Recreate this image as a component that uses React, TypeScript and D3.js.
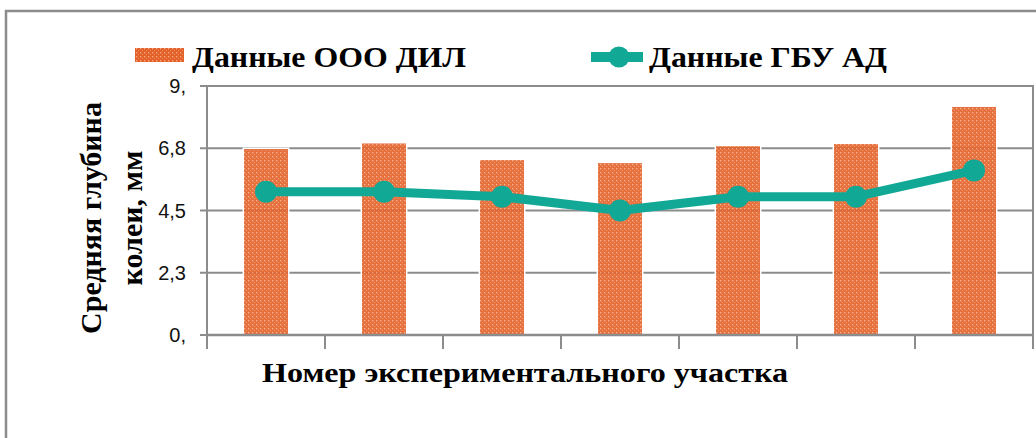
import React from "react";
import * as d3 from "d3";

const categories = ["1", "2", "3", "4", "5", "6", "7"];
const dilValues = [6.75, 6.95, 6.35, 6.24, 6.85, 6.93, 8.27];
const gbuValues = [5.18, 5.18, 5.0, 4.5, 5.0, 5.0, 5.95];
const yTickValues = [0, 2.25, 4.5, 6.75, 9];
const yTickLabels = ["0,", "2,3", "4,5", "6,8", "9,"];
const seriesNames = ["Данные ООО ДИЛ", "Данные ГБУ АД"];
const yTitleLines = ["Средняя глубина", "колеи, мм"];
const xTitle = "Номер экспериментального участка";

const W = 1036;
const H = 438;
const plot = { left: 207, right: 1033, top: 86, bottom: 335 };
const GRAY = "#8c8c8c";
const TEAL = "#12a896";
const SERIF = "'Liberation Serif', 'Times New Roman', serif";
const SANS = "'Liberation Sans', Arial, sans-serif";

export default function App() {
  const x = d3.scaleBand<string>().domain(categories).range([plot.left, plot.right]).padding(0);
  const y = d3.scaleLinear().domain([0, 9]).range([plot.bottom, plot.top]);
  const bw = x.bandwidth() * 0.385;
  const cx = (c: string) => (x(c) as number) + x.bandwidth() / 2;
  const line = d3
    .line<number>()
    .x((_, i) => cx(categories[i]))
    .y((d) => y(d));
  const boundaries = [...categories.map((c) => x(c) as number), plot.right];

  return (
    <div style={{ position: "absolute", left: 0, top: 0 }}>
      <svg width={W} height={H} style={{ display: "block", background: "#fff" }}>
        <defs>
          <pattern id="dots" width="4" height="4" patternUnits="userSpaceOnUse">
            <rect width="4" height="4" fill="#e4612a" />
            <rect x="0" y="0" width="1.3" height="1.3" fill="#f6ad85" />
            <rect x="2" y="2" width="1" height="1" fill="#ef8f5c" />
          </pattern>
        </defs>
        {/* outer frame */}
        <rect x={6} y={11} width={1100} height={500} fill="none" stroke={GRAY} strokeWidth={2.5} />

        {/* gridlines and y ticks */}
        {yTickValues.map((v, i) => (
          <g key={i}>
            <line x1={200} x2={plot.right} y1={y(v)} y2={y(v)} stroke={GRAY} strokeWidth={2} />
            <text
              x={186}
              y={y(v)}
              textAnchor="end"
              dominantBaseline="central"
              fontFamily={SANS}
              fontSize={20}
              fill="#111"
            >
              {yTickLabels[i]}
            </text>
          </g>
        ))}

        {/* bars */}
        {categories.map((c, i) => (
          <rect
            key={c}
            x={cx(c) - bw / 2}
            y={y(dilValues[i])}
            width={bw}
            height={y(0) - y(dilValues[i])}
            fill="url(#dots)"
            fillOpacity={0.9}
            stroke="#fff"
            strokeWidth={1.5}
          />
        ))}

        {/* axes */}
        <line x1={plot.left} x2={plot.left} y1={plot.top} y2={349} stroke={GRAY} strokeWidth={2} />
        <line x1={plot.right} x2={plot.right} y1={plot.top - 1} y2={349} stroke={GRAY} strokeWidth={2} />
        <line x1={plot.left} x2={plot.right + 1} y1={y(0)} y2={y(0)} stroke={GRAY} strokeWidth={2.5} />
        {boundaries.map((b, i) => (
          <line key={i} x1={b} x2={b} y1={y(0)} y2={349} stroke={GRAY} strokeWidth={2} />
        ))}

        {/* line series */}
        <path d={line(gbuValues) || ""} fill="none" stroke={TEAL} strokeWidth={9} strokeLinejoin="round" />
        {gbuValues.map((v, i) => (
          <circle key={i} cx={cx(categories[i])} cy={y(v)} r={11} fill={TEAL} />
        ))}

        {/* legend */}
        <rect x={135} y={48} width={49} height={14} fill="url(#dots)" />
        <text
          x={192}
          y={67}
          fontFamily={SERIF}
          fontWeight="bold"
          fontSize={30}
          fill="#000"
          textLength={274}
          lengthAdjust="spacingAndGlyphs"
        >
          {seriesNames[0]}
        </text>
        <line x1={591} x2={643} y1={57} y2={57} stroke={TEAL} strokeWidth={10} />
        <circle cx={619} cy={57} r={10.5} fill={TEAL} />
        <text
          x={649}
          y={67}
          fontFamily={SERIF}
          fontWeight="bold"
          fontSize={30}
          fill="#000"
          textLength={238}
          lengthAdjust="spacingAndGlyphs"
        >
          {seriesNames[1]}
        </text>

        {/* y title */}
        <g transform="translate(0,218) rotate(-90)">
          <text x={0} y={101} textAnchor="middle" fontFamily={SERIF} fontWeight="bold" fontSize={30} fill="#000">
            {yTitleLines[0]}
          </text>
          <text x={0} y={142} textAnchor="middle" fontFamily={SERIF} fontWeight="bold" fontSize={30} fill="#000">
            {yTitleLines[1]}
          </text>
        </g>

        {/* x title */}
        <text
          x={262}
          y={382}
          fontFamily={SERIF}
          fontWeight="bold"
          fontSize={28}
          fill="#000"
          textLength={526}
          lengthAdjust="spacingAndGlyphs"
        >
          {xTitle}
        </text>
      </svg>
    </div>
  );
}
